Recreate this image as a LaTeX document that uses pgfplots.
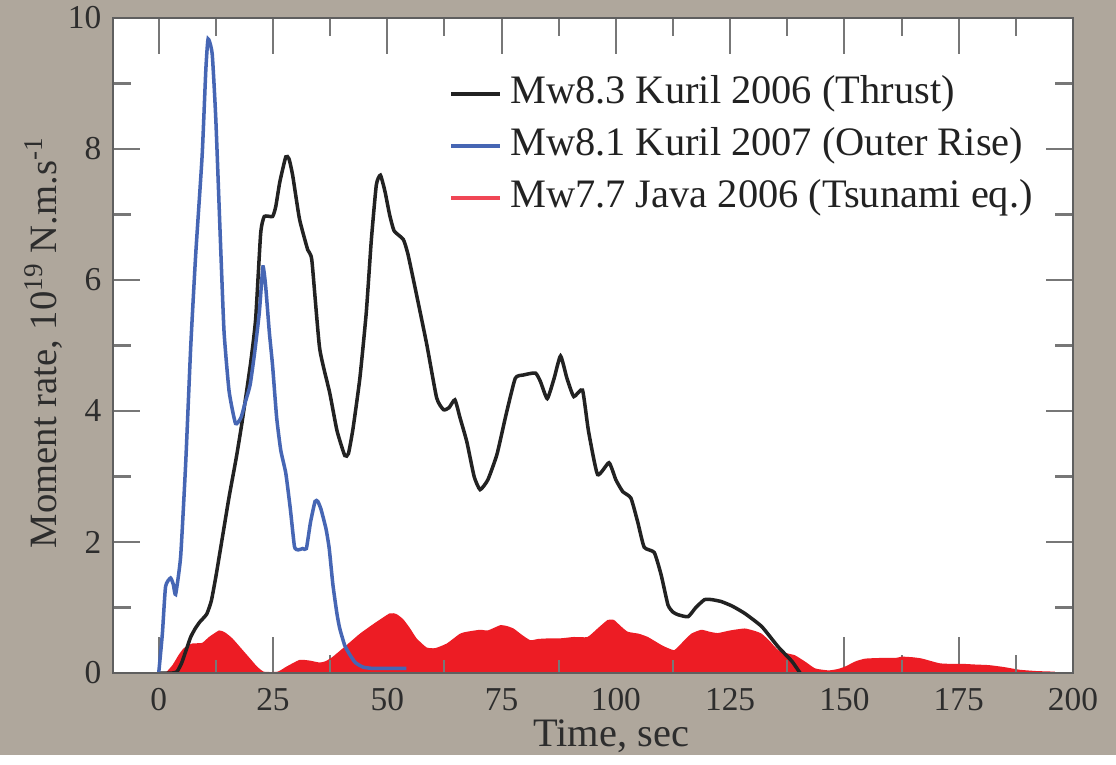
\documentclass[border=0pt]{standalone}
\usepackage{fontspec}
\setmainfont{Liberation Serif}
\usepackage{pgfplots}
\pgfplotsset{compat=1.18}

\definecolor{stone}{RGB}{175,167,156}
\definecolor{kblack}{RGB}{34,34,34}
\definecolor{kblue}{RGB}{70,102,180}
\definecolor{jred}{RGB}{237,28,36}
\definecolor{jredl}{RGB}{240,70,85}
\definecolor{axgray}{RGB}{95,95,95}
\definecolor{txt}{RGB}{45,45,45}

\pgfplotsset{
  base/.style={
    width=9.6cm, height=6.55cm, scale only axis,
    xmin=-10, xmax=200, ymin=0, ymax=10,
    axis line style={draw=axgray, line width=0.6pt},
    tick style={draw=axgray!85, line width=0.6pt},
    tick align=inside,
    xtick={0,25,...,200}, ytick={0,2,...,10},
    minor x tick num=1, minor y tick num=1,
    tick label style={font=\fontsize{9.5}{10}\selectfont, text=txt},
    /pgf/number format/assume math mode=true,
  }
}

\begin{document}
\begin{tikzpicture}
\fill[stone] (-1.13cm,-0.82cm) rectangle (10.03cm,6.73cm);

\begin{axis}[base,
  axis background/.style={fill=white},
  ymajorticks=false, yminorticks=false,
  major tick length=3.6mm, minor tick length=1.8mm,
  xticklabel style={inner sep=0pt, yshift=-1.5mm},
  xlabel={Time, sec},
  xlabel style={at={(axis description cs:0.519,-0.097)}, anchor=center,
                font=\fontsize{11.5}{12}\selectfont, text=txt},
  legend cell align=left,
  legend style={at={(axis description cs:0.35,0.9145)}, anchor=north west,
                draw=none, fill=none, inner sep=0pt, row sep=1.37mm, column sep=0.8mm,
                font=\fontsize{11.5}{13}\selectfont, text=kblack,
                nodes={inner sep=0pt, text height=8.3pt, text depth=2.6pt}},
  legend image code/.code={\draw[#1, line width=1pt] (0mm,0mm) -- (4.9mm,0mm);},
]
% Java 2006 (filled)
\addplot[fill=jred, draw=none, smooth, tension=0.3, forget plot] coordinates {
(1.5,0)(3,0.12)(4.4,0.28)(5.5,0.38)(7.3,0.45)(9.5,0.46)(11,0.55)(13.2,0.65)(14.5,0.62)
(16.1,0.53)(18,0.38)(20,0.22)(21.5,0.1)(23,0.02)(26,0.02)(28,0.1)(30.8,0.2)(33,0.19)
(35.2,0.16)(36.5,0.18)(38.1,0.25)(41,0.42)(44,0.6)(47,0.75)(50.5,0.91)(52,0.9)(53.5,0.82)
(55,0.68)(56.4,0.53)(58.6,0.39)(60.5,0.38)(63,0.45)(65.9,0.6)(67.4,0.63)(70.3,0.66)(72,0.65)
(74.7,0.73)(76,0.72)(77.6,0.68)(79.5,0.58)(81.3,0.5)(83,0.52)(85.7,0.53)(88,0.53)(90.8,0.55)
(93.8,0.55)(96,0.68)(98.2,0.81)(99.6,0.81)(101,0.72)(102.6,0.63)(105,0.6)(107,0.55)
(109.9,0.43)(111.4,0.38)(112.8,0.35)(114.3,0.45)(116.5,0.6)(118.7,0.66)(120.5,0.63)
(122.3,0.61)(125,0.65)(128.2,0.68)(130.5,0.64)(131.9,0.6)(133.5,0.5)(135.5,0.35)(137.5,0.3)
(139.2,0.27)(141.5,0.17)(143.6,0.07)(146.5,0.04)(148.5,0.06)(150.2,0.1)(152.5,0.18)
(154.6,0.22)(158,0.23)(161.2,0.23)(162.6,0.25)(165,0.24)(167,0.22)(170.7,0.15)(173,0.14)
(175.8,0.14)(178.5,0.13)(181.7,0.12)(185,0.09)(188.3,0.05)(192,0.03)(196,0.02)(196,0)
} \closedcycle;

% Kuril 2006 (thrust)
\addplot[kblack, line width=1pt, smooth, tension=0.3] coordinates {
(0,0)(3,0)(4,0.02)(5,0.15)(6,0.35)(7,0.55)(8,0.68)(9,0.78)(10.5,0.9)(11.5,1.1)(12.5,1.47)
(14,2.1)(15.4,2.69)(17,3.3)(18.3,3.86)(20.1,4.73)(21.2,5.4)(22.3,6.71)(23.1,6.97)(24.9,6.97)
(25.6,7.12)(26.5,7.5)(27.8,7.88)(28.5,7.85)(29.3,7.6)(30.8,6.93)(32.6,6.46)(33.5,6.3)
(35.2,4.96)(37.4,4.28)(39,3.7)(40.7,3.32)(41.5,3.35)(42.5,3.73)(44,4.5)(45.4,5.5)(46.5,6.6)
(47.6,7.45)(48.5,7.6)(49.5,7.35)(50.5,7.0)(51.5,6.75)(53.5,6.62)(54.5,6.4)(56,5.91)
(58.6,5.03)(60.8,4.2)(62.3,4.02)(63.5,4.05)(64.8,4.17)(65.9,3.9)(67.4,3.53)(69,3.0)
(70.3,2.8)(72,2.95)(74,3.34)(76,3.95)(78,4.5)(79.8,4.55)(82.4,4.58)(83.5,4.45)(85,4.19)
(86.5,4.5)(87.9,4.84)(89.3,4.5)(90.8,4.22)(92.7,4.32)(94,3.7)(96,3.03)(98.5,3.21)(100,2.95)
(101.5,2.77)(103.3,2.67)(104.8,2.3)(106.2,1.92)(108.4,1.84)(109.9,1.5)(111.4,1.04)
(112.5,0.93)(113.6,0.89)(115.8,0.86)(117.5,1.0)(119.4,1.12)(121,1.12)(123.1,1.09)
(125.5,1.02)(128.2,0.91)(131.9,0.71)(135.5,0.40)(138.5,0.18)(140.3,0.0)
};

% Kuril 2007 (outer rise)
\addplot[kblue, line width=1pt, smooth, tension=0.3] coordinates {
(0,0)(0.8,0.6)(1.5,1.32)(2.6,1.45)(3.2,1.35)(3.7,1.2)(4.8,1.78)(5.9,3.2)(7,4.98)(8.1,6.4)
(9.5,7.9)(10.3,9.2)(10.8,9.68)(11.7,9.45)(12.5,8.44)(13.6,6.41)(14.3,5.2)(15.4,4.3)
(16.8,3.81)(18,3.9)(19,4.15)(20,4.4)(21,4.9)(22,5.5)(22.8,6.2)(23.4,5.9)(24.2,5.2)
(24.9,4.7)(25.8,3.9)(26.7,3.4)(27.8,3.05)(28.8,2.5)(29.7,1.93)(30.5,1.88)(31.5,1.9)
(32.3,1.9)(33.2,2.3)(34.2,2.62)(34.8,2.62)(35.5,2.5)(36.6,2.2)(37.3,1.9)(38.1,1.35)
(39,0.9)(39.6,0.68)(40.7,0.42)(41.8,0.28)(43,0.16)(44.7,0.09)(47,0.07)(54.2,0.07)
};

\addlegendimage{jredl}
\legend{Mw8.3 Kuril 2006 (Thrust), Mw8.1 Kuril 2007 (Outer Rise), Mw7.7 Java 2006 (Tsunami eq.)}
\end{axis}

\begin{axis}[base,
  xmajorticks=false, xminorticks=false,
  major tick length=2.7mm, minor tick length=1.3mm,
  yticklabel style={inner sep=0pt, xshift=-1.1mm},
  ylabel={Moment rate, 10\textsuperscript{19} N.m.s\textsuperscript{-1}},
  ylabel style={at={(axis description cs:-0.072,0.505)}, anchor=center,
                font=\fontsize{11}{12}\selectfont, text=txt},
]
\end{axis}
\end{tikzpicture}
\end{document}
